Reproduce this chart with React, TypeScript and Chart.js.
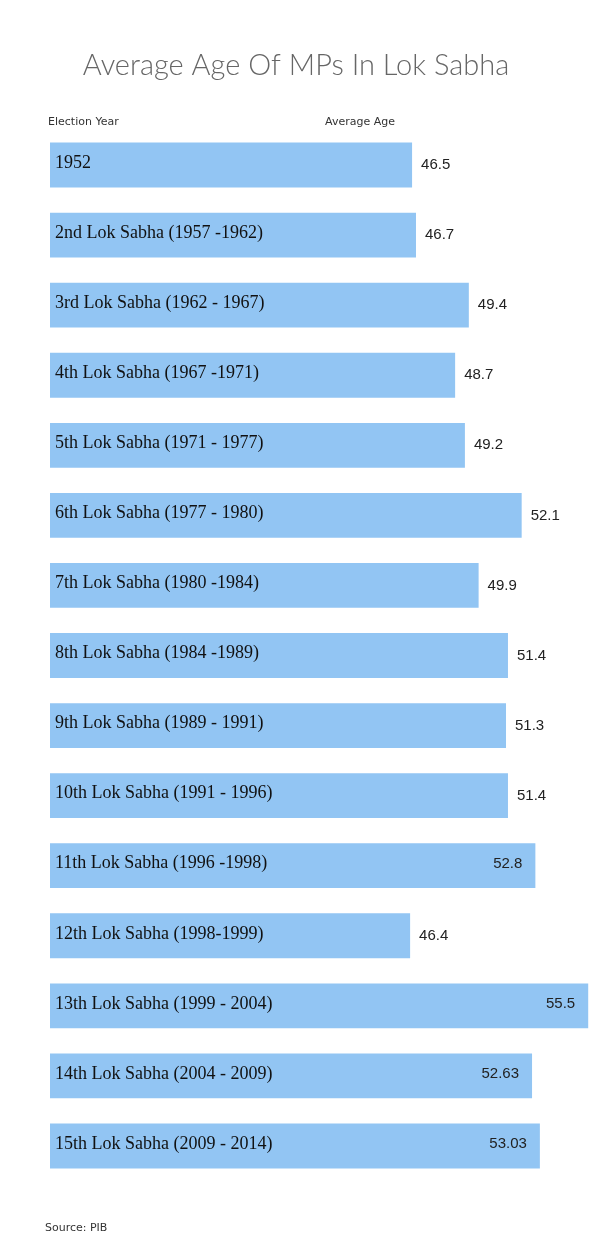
import React, { useEffect, useRef } from "react";
import { Chart, registerables } from "chart.js";

Chart.register(...registerables);

const categories: string[] = [
  "1952",
  "2nd Lok Sabha (1957 -1962)",
  "3rd Lok Sabha (1962 - 1967)",
  "4th Lok Sabha (1967 -1971)",
  "5th Lok Sabha (1971 - 1977)",
  "6th Lok Sabha (1977 - 1980)",
  "7th Lok Sabha (1980 -1984)",
  "8th Lok Sabha (1984 -1989)",
  "9th Lok Sabha (1989 - 1991)",
  "10th Lok Sabha (1991 - 1996)",
  "11th Lok Sabha (1996 -1998)",
  "12th Lok Sabha (1998-1999)",
  "13th Lok Sabha (1999 - 2004)",
  "14th Lok Sabha (2004 - 2009)",
  "15th Lok Sabha (2009 - 2014)",
];

const averageAge: number[] = [
  46.5, 46.7, 49.4, 48.7, 49.2, 52.1, 49.9, 51.4, 51.3, 51.4, 52.8, 46.4, 55.5, 52.63, 53.03,
];

const valueLabels: string[] = [
  "46.5", "46.7", "49.4", "48.7", "49.2", "52.1", "49.9", "51.4", "51.3", "51.4", "52.8", "46.4", "55.5", "52.63", "53.03",
];

const titleText = "Average Age Of MPs In Lok Sabha";
const leftHeader = "Election Year";
const rightHeader = "Average Age";
const sourceText = "Source: PIB";

const BAR_COLOR = "#92C5F3";

const overlayPlugin = {
  id: "overlayText",
  afterDatasetsDraw(chart: any) {
    const ctx = chart.ctx;
    const meta = chart.getDatasetMeta(0);
    const left = chart.chartArea.left;
    ctx.save();
    ctx.textBaseline = "middle";
    meta.data.forEach((bar: any, i: number) => {
      ctx.font = "18px 'Liberation Serif', 'Times New Roman', serif";
      ctx.fillStyle = "#111";
      ctx.textAlign = "left";
      ctx.fillText(categories[i], left + 5, bar.y - 2);
      ctx.font = "15px 'Liberation Sans', Arial, sans-serif";
      ctx.fillStyle = "#222";
      if (bar.x > 530) {
        ctx.textAlign = "right";
        ctx.fillText(valueLabels[i], bar.x - 13, bar.y - 2);
      } else {
        ctx.textAlign = "left";
        ctx.fillText(valueLabels[i], bar.x + 9, bar.y);
      }
    });
    ctx.textAlign = "center";
    ctx.fillStyle = "#666";
    ctx.font = "300 29px Lato, 'DejaVu Sans', sans-serif";
    ctx.fillText(titleText, 296, 66);
    ctx.textAlign = "left";
    ctx.fillStyle = "#333";
    ctx.font = "11px 'DejaVu Sans', sans-serif";
    ctx.fillText(leftHeader, 48, 122);
    ctx.fillText(rightHeader, 325, 122);
    ctx.fillText(sourceText, 45, 1228);
    ctx.restore();
  },
};

export default function App() {
  const canvasRef = useRef<HTMLCanvasElement | null>(null);

  useEffect(() => {
    document.body.style.margin = "0";
    const canvas = canvasRef.current;
    if (!canvas) return;
    const chart = new Chart(canvas, {
      type: "bar",
      data: {
        labels: categories,
        datasets: [
          {
            data: averageAge,
            backgroundColor: BAR_COLOR,
            borderWidth: 0,
            barPercentage: 0.64,
            categoryPercentage: 1,
          },
        ],
      },
      options: {
        indexAxis: "y",
        animation: false,
        responsive: false,
        maintainAspectRatio: false,
        layout: { padding: { left: 50, right: 2, top: 130, bottom: 69 } },
        plugins: {
          legend: { display: false },
          title: { display: false },
          tooltip: { enabled: false },
        },
        scales: {
          x: { display: false, min: 28, max: 56 },
          y: { display: false },
        },
      },
      plugins: [overlayPlugin],
    });
    return () => chart.destroy();
  }, []);

  return (
    <div style={{ width: 600, height: 1250, background: "#fff" }}>
      <canvas ref={canvasRef} width={600} height={1250} style={{ display: "block", width: 600, height: 1250 }} />
    </div>
  );
}
